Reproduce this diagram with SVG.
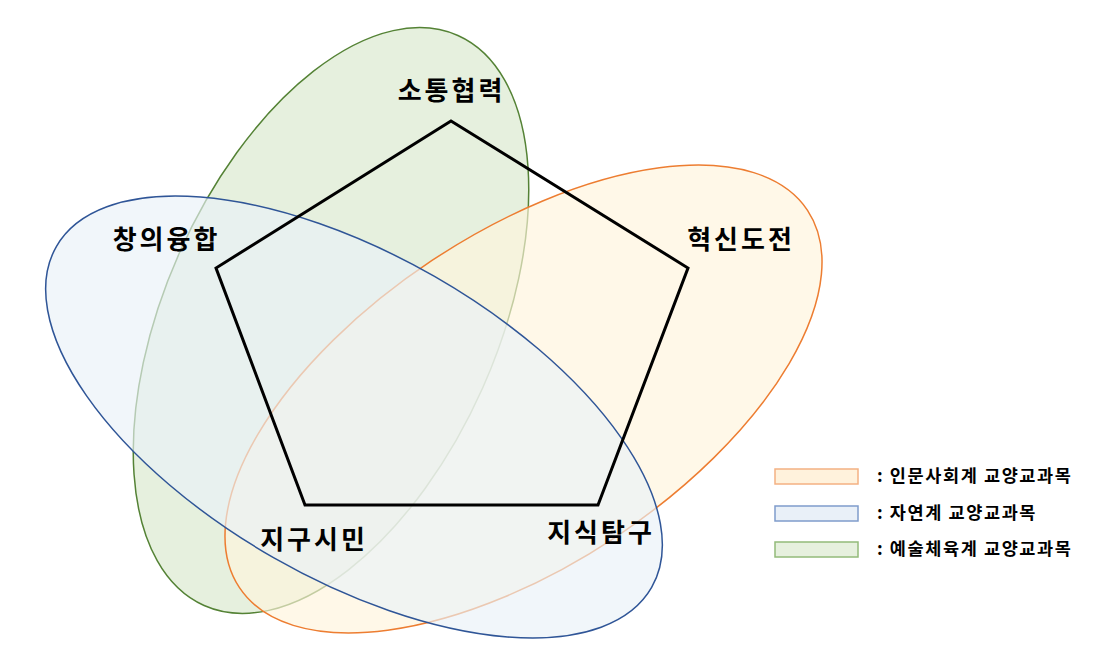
<svg xmlns="http://www.w3.org/2000/svg" width="1112" height="667" viewBox="0 0 1112 667">
<style>
.lbl{font-family:"Noto Sans CJK KR","Noto Sans",sans-serif;font-weight:bold;font-size:26px;letter-spacing:3px;fill:#000;text-anchor:middle}
.lg{font-family:"Noto Sans CJK KR","Noto Sans",sans-serif;font-weight:bold;font-size:17.5px;letter-spacing:1.6px;fill:#000}
</style>
<rect width="1112" height="667" fill="#fff"/>
<g id="sets">
<ellipse id="green" cx="331" cy="320.5" rx="166" ry="312" transform="rotate(24 331 320.5)" fill="#E6F0DE" stroke="#548235" stroke-width="1.5"/>
<ellipse id="orange" cx="523.5" cy="399" rx="341" ry="166" transform="rotate(-33.6 523.5 399)" fill="#FFF4DC" fill-opacity="0.65" stroke="#ED7D31" stroke-width="1.5"/>
<ellipse id="blue" cx="354" cy="417" rx="343" ry="162" transform="rotate(29.8 354 417)" fill="#E9F1F8" fill-opacity="0.65" stroke="#2F5597" stroke-width="1.5"/>
</g>
<g id="connectors">
<polygon points="451,121 688,268 598,505 305,505 216,268" fill="none" stroke="#000" stroke-width="3"/>
</g>
<g id="n1"><text class="lbl" x="451.5" y="100">소통협력</text></g>
<g id="n2"><text class="lbl" x="741" y="249">혁신도전</text></g>
<g id="n3"><text class="lbl" x="166.5" y="249">창의융합</text></g>
<g id="n4"><text class="lbl" x="314" y="549">지구시민</text></g>
<g id="n5"><text class="lbl" x="601" y="542">지식탐구</text></g>
<g id="legend">
<g id="lg1"><rect x="775" y="469" width="83" height="15" fill="#FFF2DC" stroke="#F4B183" stroke-width="1.5"/><text class="lg" x="877" y="482">: 인문사회계 교양교과목</text></g>
<g id="lg2"><rect x="775" y="506" width="83" height="15" fill="#E9F0F8" stroke="#7F9CCB" stroke-width="1.5"/><text class="lg" x="877" y="519">: 자연계 교양교과목</text></g>
<g id="lg3"><rect x="775" y="542" width="83" height="15" fill="#E6F0DE" stroke="#93BB7A" stroke-width="1.5"/><text class="lg" x="877" y="555">: 예술체육계 교양교과목</text></g>
</g>
</svg>
